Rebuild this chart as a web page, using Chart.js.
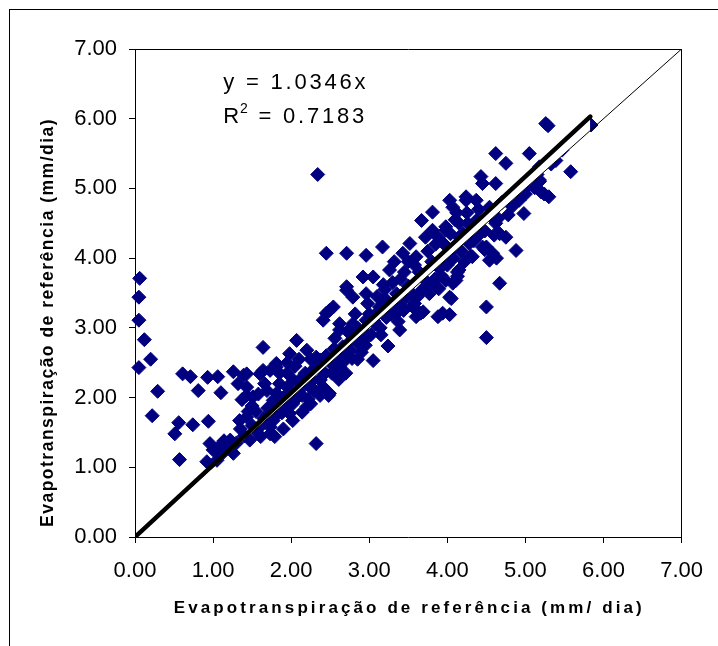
<!DOCTYPE html>
<html>
<head>
<meta charset="utf-8">
<title>Evapotranspiração de referência</title>
<script src="https://cdn.jsdelivr.net/npm/chart.js@4.4.0/dist/chart.umd.min.js"></script>
<style>
    html, body { margin: 0; padding: 0; background: #fff; overflow: hidden; }
    #frame { position: absolute; left: 9px; top: 9px; width: 760px; height: 700px; border: 1px solid #000; }
    #wrap { position: absolute; left: 0; top: 0; width: 718px; height: 646px; }
</style>
</head>
<body>
<div id="frame"></div>
<div id="wrap"><canvas id="etoChart" width="718" height="646"></canvas></div>
<script>
// ETo scatter: [x, y] pairs (mm/dia)

// low end, incl. the points stuck near x = 0
const lowPoints = [
    [0.06, 3.71], [0.05, 3.44], [0.05, 3.11], [0.12, 2.83], [0.20, 2.55], [0.05, 2.43], [0.29, 2.09], [0.22, 1.74], [0.56, 1.64], [0.51, 1.48],
    [0.57, 1.11], [0.61, 2.34], [0.71, 2.30], [0.81, 2.10], [0.74, 1.61], [0.94, 1.66], [0.93, 2.29], [1.10, 2.07], [1.06, 2.30], [1.26, 2.37],
    [1.39, 2.32], [1.37, 1.97], [1.43, 2.03], [1.64, 2.72], [0.96, 1.34], [0.92, 1.08], [1.07, 1.29], [1.22, 1.39], [1.26, 1.20], [1.34, 1.67],
    [1.43, 1.72], [1.58, 1.48], [1.73, 1.58], [1.77, 1.77], [1.73, 2.39], [1.60, 2.34], [1.69, 2.10], [1.81, 2.44], [1.77, 1.96], [1.14, 1.38],
    [1.32, 2.20], [1.12, 1.20], [1.00, 1.25], [1.05, 1.10], [1.18, 1.30], [1.30, 1.35], [1.43, 2.34], [1.64, 2.39], [1.51, 2.01], [1.43, 2.15],
    [1.60, 1.58], [1.73, 1.48], [1.47, 1.39], [1.62, 1.62], [1.70, 1.75], [1.78, 1.90], [1.66, 2.20], [1.58, 2.05], [1.50, 1.88], [1.45, 1.80],
    [1.61, 1.44], [1.55, 1.55], [1.79, 1.44], [1.79, 1.73], [1.70, 1.85], [1.65, 1.70], [1.50, 1.60], [1.40, 1.45], [1.35, 1.55], [1.55, 1.80]
];

// middle of the cloud, x between ~1.8 and ~3.5
const midPoints = [
    [2.32, 1.34], [3.05, 2.53], [3.24, 2.74], [2.07, 2.82], [2.71, 3.59], [2.96, 3.49], [2.49, 3.25], [2.41, 3.11], [2.62, 3.06], [3.39, 2.97],
    [3.13, 3.25], [3.22, 3.40], [1.81, 2.49], [1.98, 2.63], [2.20, 2.68], [2.32, 2.58], [2.03, 2.25], [1.81, 2.06], [2.49, 2.06], [2.37, 2.25],
    [2.58, 2.39], [2.66, 2.73], [2.88, 2.82], [2.79, 3.06], [1.98, 1.77], [1.77, 1.67], [2.20, 1.87], [2.41, 2.15], [2.45, 4.07], [2.71, 4.07],
    [2.96, 4.04], [3.17, 4.16], [3.05, 3.73], [3.26, 3.83], [3.43, 4.07], [3.35, 3.49], [3.43, 3.30], [3.13, 3.30], [2.96, 3.11], [2.79, 2.87],
    [2.62, 2.97], [2.71, 3.54], [2.79, 3.44], [2.45, 3.21], [2.54, 3.30], [2.92, 3.73], [3.17, 3.40], [3.35, 3.21], [2.54, 2.58], [2.62, 2.44],
    [2.37, 2.54], [2.34, 5.20], [1.90, 1.85], [2.02, 1.91], [2.14, 2.03], [2.25, 2.14], [2.37, 2.26], [2.43, 2.35], [1.90, 1.55], [2.02, 1.67],
    [2.14, 1.79], [2.25, 1.91], [2.37, 2.03], [2.48, 2.03], [2.61, 2.26], [2.78, 2.56], [2.96, 2.85], [3.37, 3.09], [1.85, 2.20], [1.95, 2.35],
    [2.05, 2.45], [2.10, 2.10], [2.15, 2.30], [2.28, 2.40], [2.50, 2.50], [2.55, 2.70], [2.68, 2.60], [2.75, 2.80], [2.85, 3.00], [2.90, 2.65],
    [3.00, 3.20], [3.08, 3.05], [3.15, 2.90], [3.20, 3.55], [3.30, 3.65], [3.45, 3.80], [3.30, 3.30], [3.48, 3.45], [2.20, 2.20], [2.00, 2.05],
    [1.90, 2.00], [1.85, 1.95], [2.30, 2.10], [2.60, 2.45], [2.70, 2.35], [2.85, 2.55], [2.95, 2.75], [1.88, 1.78], [1.95, 2.15], [2.00, 1.95],
    [2.08, 2.00], [2.12, 2.20], [2.18, 2.35], [2.22, 1.98], [2.28, 2.25], [2.33, 2.45], [2.40, 2.38], [2.45, 2.60], [2.52, 2.35], [2.56, 2.85],
    [2.60, 2.62], [2.66, 2.50], [2.72, 2.95], [2.76, 2.68], [2.82, 3.20], [2.86, 2.78], [2.92, 2.95], [2.98, 3.35], [3.02, 2.90], [3.06, 3.10],
    [3.10, 3.45], [3.14, 3.00], [3.18, 3.62], [3.22, 3.15], [3.28, 3.20], [3.32, 3.95], [3.36, 3.40], [3.40, 3.70], [3.44, 3.25], [1.85, 2.35],
    [2.25, 2.55], [2.10, 2.55], [1.95, 2.50]
];

// upper part of the cloud, x above ~3.5
const highPoints = [
    [3.60, 4.02], [3.52, 4.21], [3.81, 4.40], [3.67, 4.54], [3.81, 4.66], [4.07, 4.73], [4.24, 4.83], [4.15, 4.50], [3.98, 4.40], [4.37, 4.54],
    [4.45, 5.07], [4.50, 4.16], [4.32, 4.02], [4.15, 3.83], [4.11, 3.68], [4.05, 3.42], [3.94, 3.21], [3.88, 3.16], [3.69, 3.23], [3.77, 3.49],
    [3.98, 3.68], [3.86, 3.92], [3.56, 3.30], [3.60, 3.16], [4.50, 3.30], [4.50, 2.86], [5.26, 5.93], [5.29, 5.90], [4.62, 5.50], [4.75, 5.36],
    [5.05, 5.50], [5.58, 5.24], [4.43, 5.17], [4.62, 5.07], [5.18, 5.31], [5.39, 5.40], [5.30, 4.88], [4.98, 4.64], [5.09, 5.07], [4.84, 4.88],
    [4.03, 4.83], [4.24, 4.88], [4.37, 4.83], [4.54, 4.73], [4.62, 4.50], [4.67, 4.35], [4.75, 4.30], [4.88, 4.11], [4.54, 3.97], [4.58, 4.07],
    [4.67, 3.64], [4.07, 3.64], [4.03, 3.44], [3.98, 4.45], [4.15, 4.30], [4.28, 4.21], [4.45, 4.16], [4.92, 4.83], [5.18, 5.12], [5.84, 5.91],
    [5.47, 5.55], [4.03, 3.19], [5.24, 4.92], [5.36, 5.42], [5.46, 5.56], [4.13, 3.74], [4.63, 4.00], [4.48, 4.12], [4.60, 4.33], [3.66, 3.21],
    [3.89, 3.56], [4.13, 3.80], [4.30, 4.03], [4.48, 4.39], [4.65, 4.57], [4.83, 4.74], [5.00, 4.92], [5.12, 5.01], [5.18, 5.10], [3.50, 3.60],
    [3.58, 3.90], [3.62, 3.45], [3.70, 3.70], [3.75, 4.10], [3.85, 4.20], [3.90, 3.85], [3.95, 4.00], [4.05, 4.10], [4.10, 4.55], [4.20, 4.35],
    [4.25, 4.65], [4.35, 4.40], [3.50, 3.95], [3.54, 3.50], [3.58, 3.35], [3.64, 3.80], [3.68, 3.55], [3.72, 4.30], [3.76, 3.60], [3.80, 3.95],
    [3.84, 3.70], [3.88, 4.30], [3.92, 3.75], [3.96, 4.20], [4.00, 3.90], [4.04, 4.35], [4.08, 4.00], [4.12, 4.65], [4.18, 4.10], [4.22, 3.95],
    [4.26, 4.50], [4.34, 4.25], [4.40, 4.70], [4.42, 4.35], [4.56, 4.60], [4.70, 4.80], [4.78, 4.62], [4.90, 4.95], [5.05, 5.05], [5.15, 5.20],
    [5.20, 4.95], [5.33, 5.35]
];

// 1:1 line and the linear trend (y = 1.0346x), end points as drawn
const identityX = [0, 7];
const identityY = [0, 7];
const trendX = [0, 5.83];
const trendY = [0, 6.03];

const axisTicks = [0, 1, 2, 3, 4, 5, 6, 7];

const equationText = 'y = 1.0346x';
const r2Value = '0.7183';
const equationAt = { x: 1.13, y: 6.52 };
const r2At = { x: 1.13, y: 6.02 };

const xTitle = 'Evapotranspiração de referência (mm/ dia)';
const yTitle = 'Evapotranspiração de referência (mm/dia)';

const FONT = "'Liberation Sans', Arial, sans-serif";

function toXY(pairs) {
    return pairs.map(p => ({ x: p[0], y: p[1] }));
}

function zip(xs, ys) {
    return xs.map((x, i) => ({ x: x, y: ys[i] }));
}

// equation, R² and the spaced-out axis titles
const textPlugin = {
    id: 'chartTexts',
    afterDraw(chart) {
        const ctx = chart.ctx;
        const area = chart.chartArea;
        const sx = chart.scales.x;
        const sy = chart.scales.y;

        ctx.save();
        ctx.fillStyle = '#000';
        ctx.textAlign = 'left';
        ctx.textBaseline = 'middle';
        ctx.font = '22px ' + FONT;
        ctx.letterSpacing = '2.8px';
        ctx.fillText(equationText, sx.getPixelForValue(equationAt.x), sy.getPixelForValue(equationAt.y));

        const rx = sx.getPixelForValue(r2At.x);
        const ry = sy.getPixelForValue(r2At.y);
        ctx.fillText('R', rx, ry);
        let w = ctx.measureText('R').width;
        ctx.font = '14px ' + FONT;
        ctx.fillText('2', rx + w - 2, ry - 8);
        w += ctx.measureText('2').width;
        ctx.font = '22px ' + FONT;
        ctx.fillText(' = ' + r2Value, rx + w - 3, ry);

        // x title
        ctx.font = 'bold 17px ' + FONT;
        ctx.letterSpacing = '3.1px';
        ctx.textAlign = 'center';
        ctx.fillText(xTitle, (area.left + area.right) / 2 + 1, 608);

        // y title, reads bottom to top
        ctx.translate(53, 527);
        ctx.rotate(-Math.PI / 2);
        ctx.font = 'bold 17.5px ' + FONT;
        ctx.letterSpacing = '1.5px';
        ctx.textAlign = 'left';
        ctx.textBaseline = 'alphabetic';
        ctx.fillText(yTitle, 0, 0);
        ctx.restore();
    }
};

function setTicks(scale) {
    scale.ticks = axisTicks.map(v => ({ value: v }));
}

const tickFont = { family: FONT, size: 22 };

new Chart(document.getElementById('etoChart'), {
    type: 'scatter',
    data: {
        datasets: [
            {
                label: 'ETo',
                data: toXY(lowPoints.concat(midPoints, highPoints)),
                pointStyle: 'rectRot',
                pointRadius: 7,
                pointBorderWidth: 1,
                backgroundColor: '#000080',
                borderColor: '#000080',
                clip: false,
                order: 3
            },
            {
                label: '1:1',
                data: zip(identityX, identityY),
                showLine: true,
                borderColor: '#000',
                borderWidth: 1,
                pointRadius: 0,
                fill: false,
                order: 1
            },
            {
                label: 'Linear',
                data: zip(trendX, trendY),
                showLine: true,
                borderColor: '#000',
                borderWidth: 4.5,
                borderCapStyle: 'round',
                pointRadius: 0,
                fill: 1,
                backgroundColor: '#fff',
                order: 2
            }
        ]
    },
    options: {
        responsive: false,
        animation: false,
        devicePixelRatio: 1,
        layout: { padding: { top: 49, right: 35, bottom: 0, left: 0 } },
        plugins: {
            legend: { display: false },
            tooltip: { enabled: false }
        },
        scales: {
            x: {
                type: 'linear',
                position: 'bottom',
                min: 0,
                max: 7,
                afterBuildTicks: setTicks,
                afterFit: s => { s.height = 109; },
                grid: { drawOnChartArea: false, drawTicks: true, tickLength: 6, color: '#000' },
                border: { color: '#000', width: 1 },
                ticks: {
                    font: tickFont,
                    color: '#000',
                    padding: 15,
                    maxRotation: 0,
                    autoSkip: false,
                    callback: v => v.toFixed(2)
                }
            },
            y: {
                type: 'linear',
                position: 'left',
                min: 0,
                max: 7,
                afterBuildTicks: setTicks,
                afterFit: s => { s.width = 135; },
                grid: { drawOnChartArea: false, drawTicks: true, tickLength: 6, color: '#000' },
                border: { color: '#000', width: 1 },
                ticks: {
                    font: tickFont,
                    color: '#000',
                    padding: 12,
                    autoSkip: false,
                    callback: v => v.toFixed(2)
                }
            },
            // plain frame lines on top and right
            x2: {
                type: 'linear',
                position: 'top',
                min: 0,
                max: 7,
                ticks: { display: false },
                grid: { display: false },
                border: { color: '#000', width: 1 },
                afterFit: s => { s.height = 0; }
            },
            y2: {
                type: 'linear',
                position: 'right',
                min: 0,
                max: 7,
                ticks: { display: false },
                grid: { display: false },
                border: { color: '#000', width: 1 },
                afterFit: s => { s.width = 0; }
            }
        }
    },
    plugins: [textPlugin]
});
</script>
</body>
</html>
